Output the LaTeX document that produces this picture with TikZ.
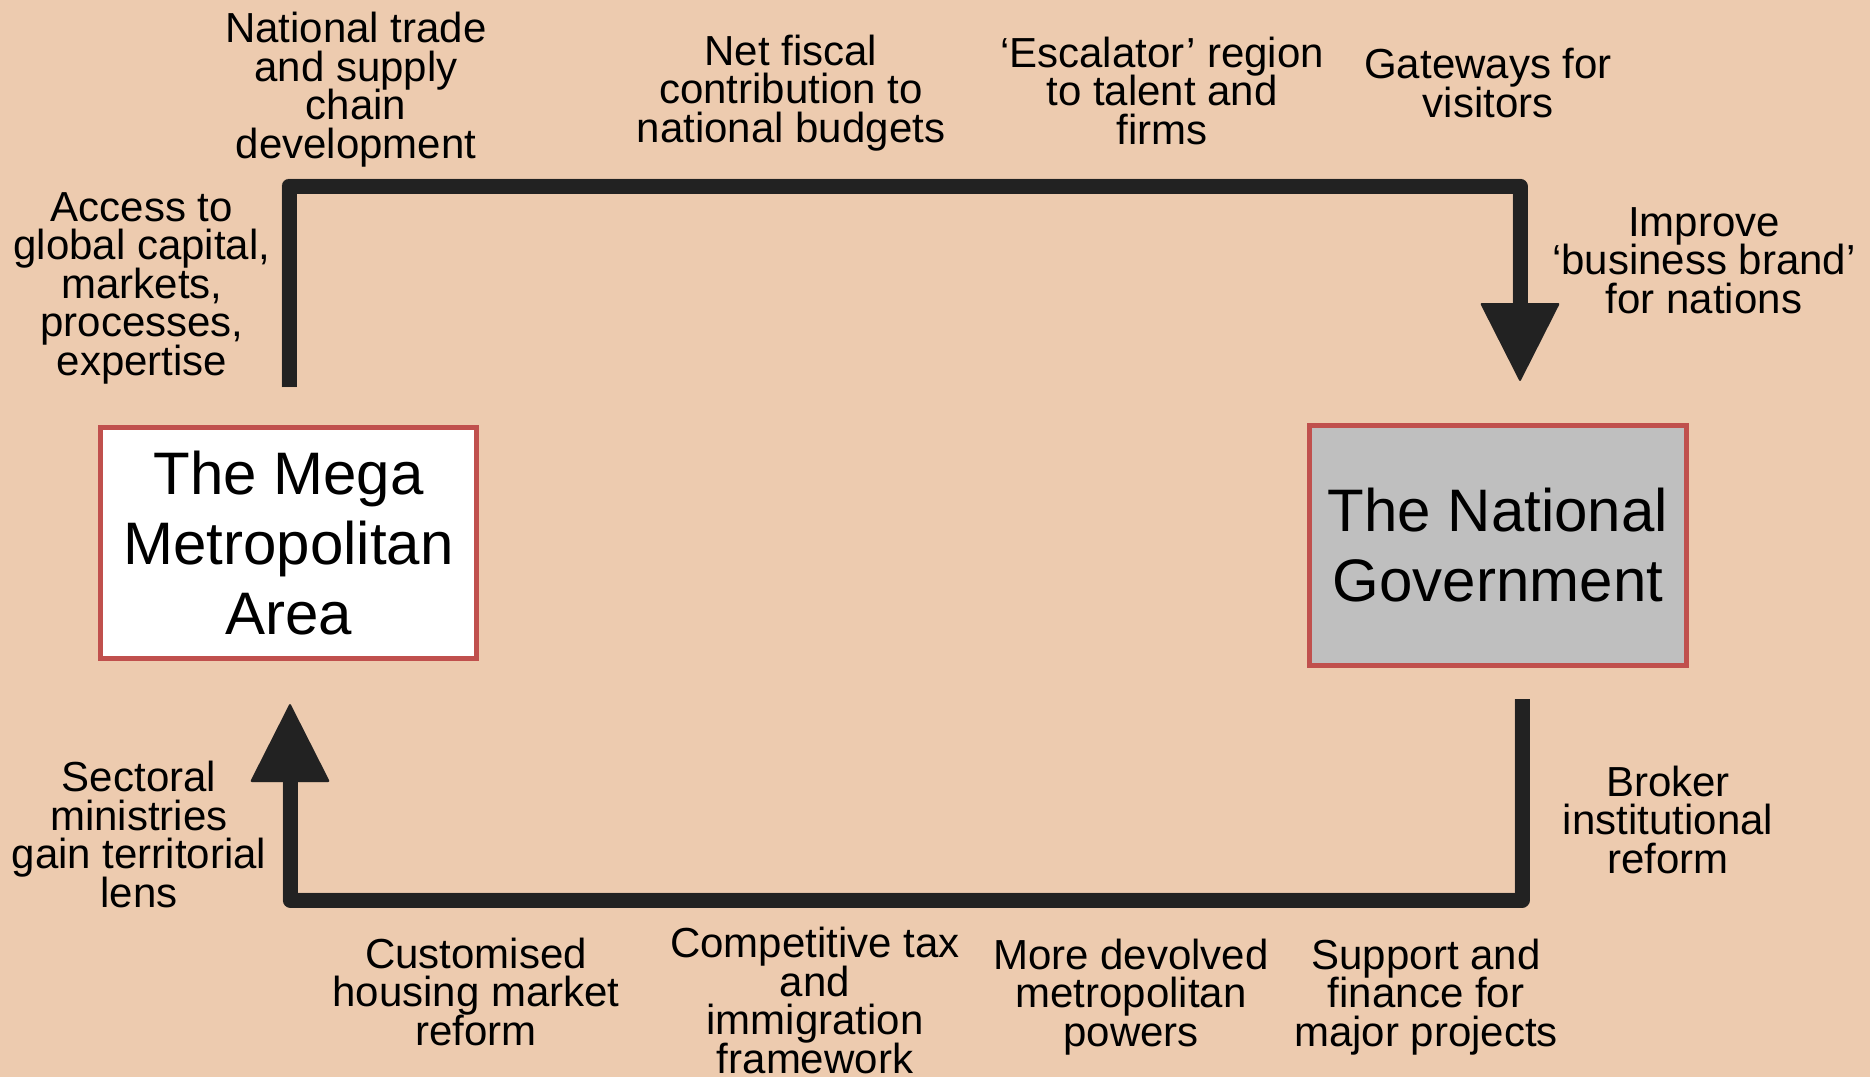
\documentclass[tikz,border=0pt]{standalone}
\usepackage{fontspec}
\setmainfont{Liberation Sans}
\usetikzlibrary{calc}
\definecolor{bgtan}{HTML}{EDCBAF}
\definecolor{flow}{HTML}{222222}
\definecolor{boxred}{HTML}{C0504D}
\definecolor{boxgray}{HTML}{BFBFBF}
% fixed line pitch even when lines are taller than the baseline skip
\newcommand\tightlines{\lineskiplimit=-100pt\relax\lineskip=0pt\relax}
\newcommand\labelfont{\fontsize{42}{38.5}\selectfont\tightlines}
\newcommand\actorfont{\fontsize{60}{70}\selectfont\tightlines}
\begin{document}
\begin{tikzpicture}[x=1pt,y=-1pt,
  % labels are placed by the baseline of their last line
  lbl/.style={font=\labelfont, align=center, anchor=base, inner sep=0pt},
  actor/.style={draw=boxred, line width=5pt, inner sep=0pt, align=center, font=\actorfont},
  flowline/.style={draw=flow, line width=15pt, line join=round},
  tipfill/.style={fill=flow, rounded corners=2pt}
]
% canvas
\useasboundingbox (0,0) rectangle (1870,1077);
\fill[bgtan] (0,0) rectangle (1870,1077);

% the two actors
\node[actor, fill=white, minimum width=376pt, minimum height=231pt] (mega) at (288.5,543)
  {The Mega\\Metropolitan\\Area};
\node[actor, fill=boxgray, minimum width=377pt, minimum height=240pt] (gov) at (1498,545.5)
  {The National\\Government};

% end points and bends of the two flows
\coordinate (up-start) at (289,387);
\coordinate (up-bendA) at (289,186);
\coordinate (up-bendB) at (1520,186);
\coordinate (up-base)  at (1520,303);
\coordinate (up-tip)   at (1520,382);

\coordinate (dn-start) at (1522,699);
\coordinate (dn-bendA) at (1522,900);
\coordinate (dn-bendB) at (290,900);
\coordinate (dn-base)  at (290,782);
\coordinate (dn-tip)   at (290,703);

% soft shadow under the flows
\begin{scope}[shift={(2.5,3)}, transparency group, opacity=0.18]
  \draw[line width=15pt, line join=round] (up-start) -- (up-bendA) -- (up-bendB) -- (up-base);
  \fill[rounded corners=2pt] ($(up-base)+(-40,0)$) -- ($(up-base)+(40,0)$) -- (up-tip) -- cycle;
  \draw[line width=15pt, line join=round] (dn-start) -- (dn-bendA) -- (dn-bendB) -- (dn-base);
  \fill[rounded corners=2pt] ($(dn-base)+(-40,0)$) -- ($(dn-base)+(40,0)$) -- (dn-tip) -- cycle;
\end{scope}

% metropolitan area -> national government
\draw[flowline] (up-start) -- (up-bendA) -- (up-bendB) -- (up-base);
\fill[tipfill] ($(up-base)+(-40,0)$) -- ($(up-base)+(40,0)$) -- (up-tip) -- cycle;

% national government -> metropolitan area
\draw[flowline] (dn-start) -- (dn-bendA) -- (dn-bendB) -- (dn-base);
\fill[tipfill] ($(dn-base)+(-40,0)$) -- ($(dn-base)+(40,0)$) -- (dn-tip) -- cycle;

% benefits flowing to the nation
\node[lbl] (trade)   at (356,158)  {National trade\\and supply\\chain\\development};
\node[lbl] (access)  at (142,375)  {Access to\\global capital,\\markets,\\processes,\\expertise};
\node[lbl] (fiscal)  at (791,142)  {Net fiscal\\contribution to\\national budgets};
\node[lbl] (escal)   at (1162,144) {‘Escalator’ region\\to talent and\\firms};
\node[lbl] (gateway) at (1488,117) {Gateways for\\visitors};
\node[lbl] (brand)   at (1704,313) {Improve\\‘business brand’\\for nations};

% support flowing back to the metropolis
\node[lbl] (broker)  at (1668,873)  {Broker\\institutional\\reform};
\node[lbl] (sector)  at (139,907)   {Sectoral\\ministries\\gain territorial\\lens};
\node[lbl] (housing) at (476,1045)  {Customised\\housing market\\reform};
\node[lbl] (taxes)   at (815,1073)  {Competitive tax\\and\\immigration\\framework};
\node[lbl] (devolve) at (1131,1046) {More devolved\\metropolitan\\powers};
\node[lbl] (finance) at (1426,1046) {Support and\\finance for\\major projects};
\end{tikzpicture}
\end{document}
